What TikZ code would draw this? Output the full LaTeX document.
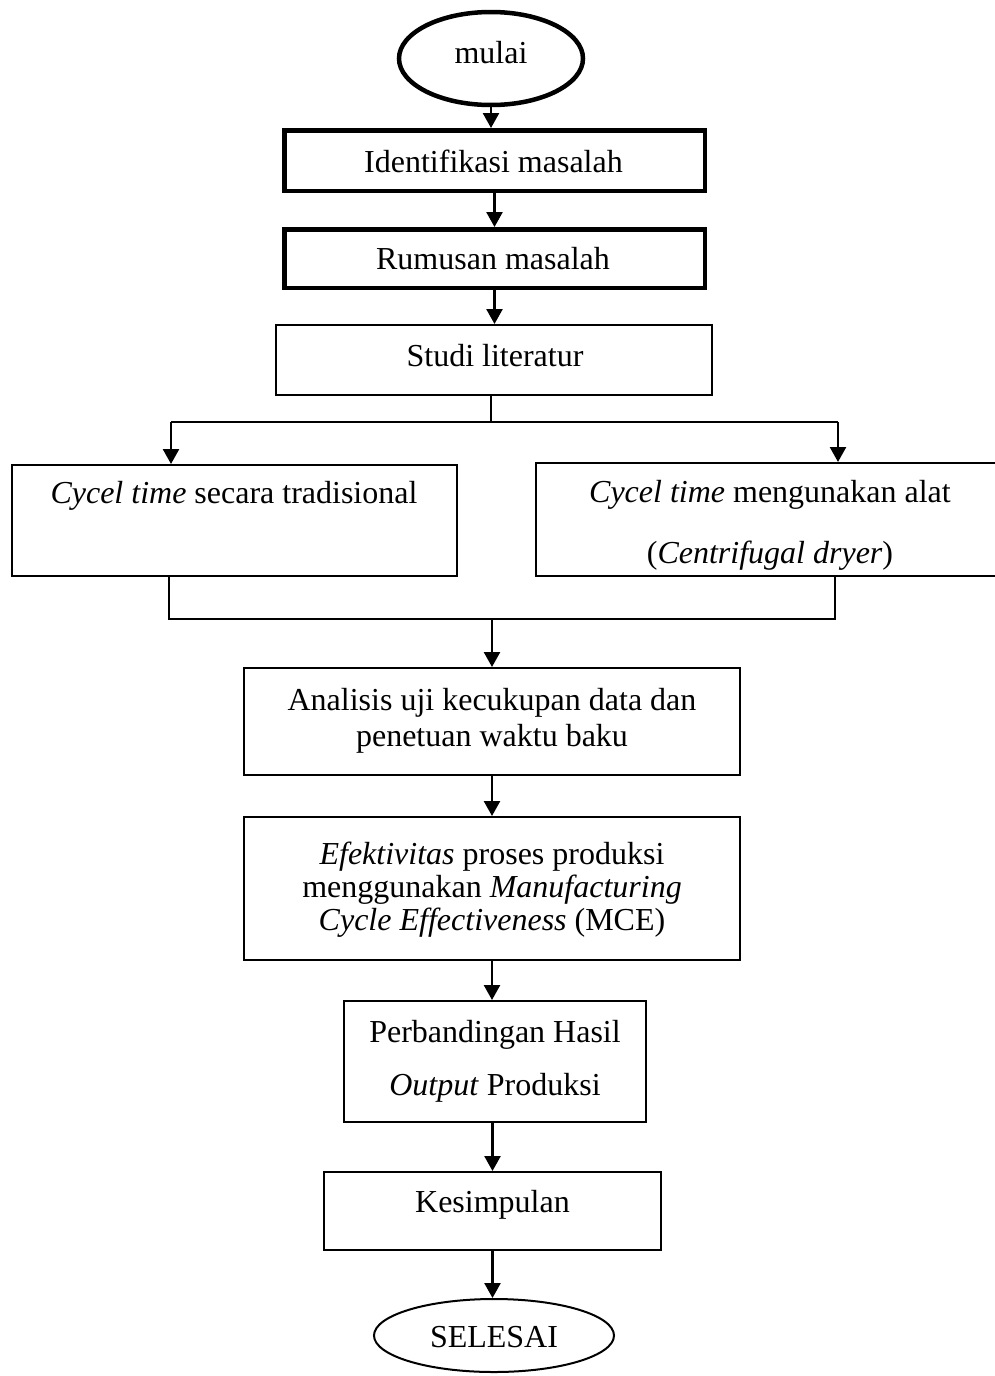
\documentclass[tikz,border=0pt]{standalone}
\usepackage{fontspec}
\setmainfont{Liberation Serif}
\usetikzlibrary{arrows.meta,shapes.geometric}
\newcommand\diafont{\fontsize{32}{35}\selectfont}
\begin{document}
\begin{tikzpicture}[x=1pt,y=-1pt,
  box/.style={draw, line width=2pt, rectangle, inner sep=0pt},
  thickbox/.style={draw, line width=4.5pt, rectangle, inner sep=0pt},
  term/.style={draw, ellipse, inner sep=0pt},
  txt/.style={anchor=base, inner sep=0pt, font=\diafont},
  arr/.style={line width=2.5pt, -{Triangle[width=16pt,length=15pt]}},
  conn/.style={line width=2pt}]
\useasboundingbox (0,0) rectangle (995,1376);

% shapes
\node[term, line width=4.5pt, minimum width=184pt, minimum height=93pt] (mulai) at (491,58.5) {};
\node[thickbox, minimum width=420.5pt, minimum height=60.5pt] (ident) at (494.5,160.5) {};
\node[thickbox, minimum width=420.5pt, minimum height=58.5pt] (rumus) at (494.5,258.5) {};
\node[box, minimum width=436pt, minimum height=70pt] (studi) at (494,360) {};
\node[box, minimum width=445pt, minimum height=111pt] (left) at (234.5,520.5) {};
\node[box, minimum width=468pt, minimum height=113pt] (right) at (770,519.5) {};
\node[box, minimum width=496pt, minimum height=107pt] (anal) at (492,721.5) {};
\node[box, minimum width=496pt, minimum height=143pt] (efek) at (492,888.5) {};
\node[box, minimum width=302pt, minimum height=121pt] (perb) at (495,1061.5) {};
\node[box, minimum width=337pt, minimum height=78pt] (kesim) at (492.5,1211) {};
\node[term, line width=2pt, minimum width=240pt, minimum height=73pt] (selesai) at (494,1335.5) {};

% texts
\node[txt] (tmulai) at (491,63) {mulai};
\node[txt] (tident) at (493.5,172) {Identifikasi masalah};
\node[txt] (trumus) at (493,269) {Rumusan masalah};
\node[txt] (tstudi) at (495,366) {Studi literatur};
\node[txt] (tleft) at (234,503) {\textit{Cycel time} secara tradisional};
\node[txt] (tright1) at (770,502) {\textit{Cycel time} mengunakan alat};
\node[txt] (tright2) at (770,563) {(\textit{Centrifugal dryer})};
\node[txt] (tanal1) at (492,710) {Analisis uji kecukupan data dan};
\node[txt] (tanal2) at (492,746) {penetuan waktu baku};
\node[txt] (tefek1) at (492,864) {\textit{Efektivitas} proses produksi};
\node[txt] (tefek2) at (492,897) {menggunakan \textit{Manufacturing}};
\node[txt] (tefek3) at (492,930) {\textit{Cycle Effectiveness} (MCE)};
\node[txt] (tperb1) at (495,1042) {Perbandingan Hasil};
\node[txt] (tperb2) at (495,1095) {\textit{Output} Produksi};
\node[txt] (tkesim) at (492.5,1212) {Kesimpulan};
\node[txt] (tselesai) at (494,1347) {SELESAI};

% connector points
\coordinate (br) at (491,422);
\coordinate (brL) at (171,422);
\coordinate (brR) at (838,422);
\coordinate (jL) at (169,619);
\coordinate (jR) at (835,619);
\coordinate (jM) at (492,619);

% connectors
\draw[arr] (mulai.south) -- (mulai.south |- ident.north);
\draw[arr] (ident.south) -- (ident.south |- rumus.north);
\draw[arr] (rumus.south) -- (rumus.south |- studi.north);
\draw[conn] (studi.south -| br) -- (br);
\draw[conn] (brL) -- (brR);
\draw[arr] (brL) -- (brL |- left.north);
\draw[arr] (brR) -- (brR |- right.north);
\draw[conn] (left.south -| jL) -- (jL) -- (jR) -- (right.south -| jR);
\draw[arr] (jM) -- (jM |- anal.north);
\draw[arr] (anal.south) -- (efek.north);
\draw[arr] (efek.south) -- (efek.south |- perb.north);
\draw[arr] (kesim.north |- perb.south) -- (kesim.north);
\draw[arr] (kesim.south) -- (kesim.south |- selesai.north);
\end{tikzpicture}
\end{document}
